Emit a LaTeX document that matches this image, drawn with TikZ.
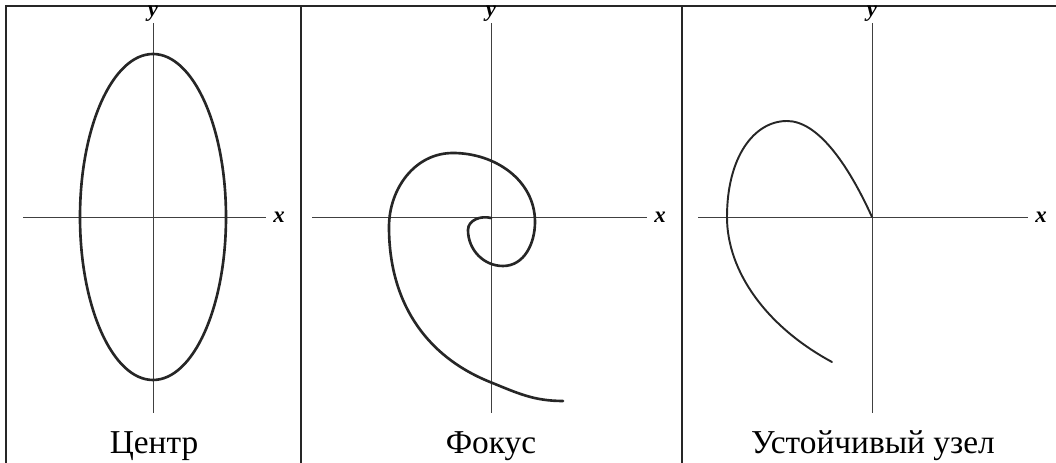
\documentclass[tikz,border=0pt]{standalone}
\usepackage{fontspec}
\setmainfont{Liberation Serif}
\usetikzlibrary{positioning}

\tikzset{
    frame/.style={line width=0.8pt, black!85},
    axis/.style={line width=0.45pt, black!75},
    trajectory/.style={line width=1.5pt, black!85, line join=round, line cap=round},
    axislabel/.style={font=\fontsize{13}{13}\selectfont\bfseries\itshape, inner sep=0pt, anchor=base},
    caption/.style={font=\fontsize{19}{24}\selectfont, inner sep=0pt, anchor=base},
}

\begin{document}
\begin{tikzpicture}[x=0.02cm, y=0.02cm]

        \useasboundingbox (0,0) rectangle (1056,463);

        % Frame and dividers
        \draw[frame] (6,0) -- (6,457) -- (1056,457);
        \draw[frame] (301,0) -- (301,457);
        \draw[frame] (682,0) -- (682,457);

        % Centre
        \draw[axis] (153,50) -- (153,440);
        \draw[axis] (23,246) -- (266,246);
        \node[axislabel] (centreY) at (153,446) {y};
        \node[axislabel] (centreX) at (279,240) {x};
        \draw[trajectory] (153,246) ellipse (73 and 163);
        \node[caption] (centreCap) at (154,9) {Центр};

        % Focus
        \draw[axis] (491,50) -- (491,440);
        \draw[axis] (312,246) -- (647,246);
        \node[axislabel] (focusY) at (491,446) {y};
        \node[axislabel] (focusX) at (660,240) {x};
        \begin{scope}[shift={(491,246)}]
            \draw[trajectory] (0,-1) to[out=165,in=90] (-23,-13) to[out=-90,in=180] (12,-49)
                to[out=0,in=-90] (44,-5) to[out=90,in=0] (-38,64) to[out=180,in=90] (-102,-10)
                to[out=-90,in=158] (-1,-165) to[out=-22,in=180] (72,-184);
        \end{scope}
        \node[caption] (focusCap) at (491,9) {Фокус};

        % Stable node
        \draw[axis] (872,50) -- (872,440);
        \draw[axis] (698,246) -- (1028,246);
        \node[axislabel] (nodeY) at (872,446) {y};
        \node[axislabel] (nodeX) at (1041,240) {x};
        \begin{scope}[shift={(872,246)}]
            \draw[trajectory, line width=1.1pt] (0,0) .. controls (-25,55) and (-55,96) .. (-85,96)
                .. controls (-118,96) and (-145,60) .. (-145,0)
                .. controls (-145,-55) and (-105,-110) .. (-40,-145);
        \end{scope}
        \node[caption] (nodeCap) at (873,9) {Устойчивый узел};

    \end{tikzpicture}
\end{document}
